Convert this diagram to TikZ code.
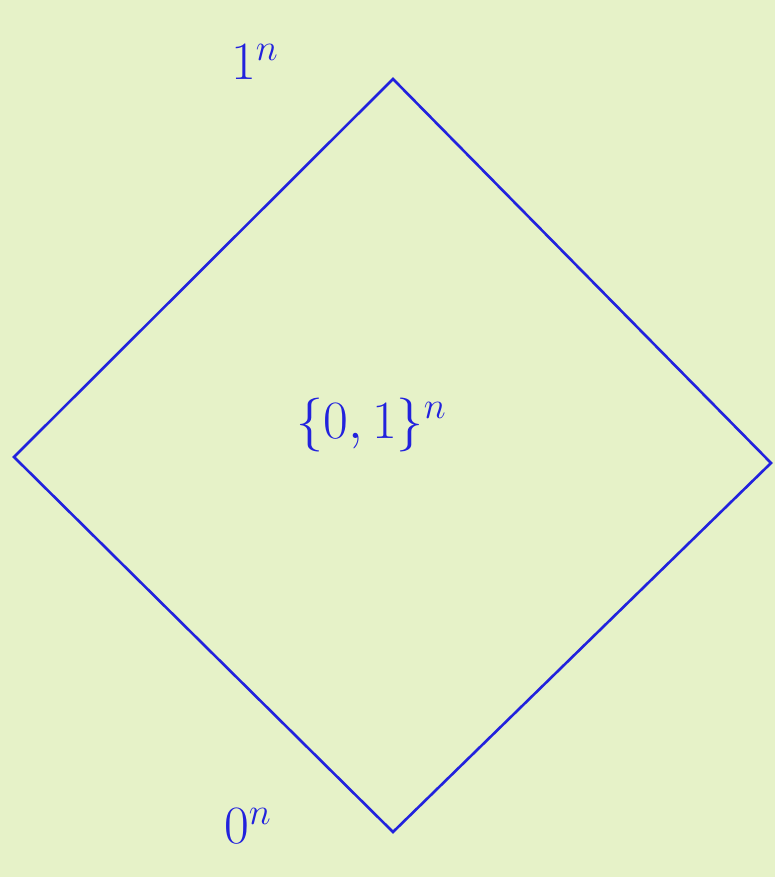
\documentclass[tikz,border=0pt]{standalone}
\definecolor{bgcol}{HTML}{E6F2C8}
\definecolor{inkblue}{HTML}{2222DD}
\begin{document}
\begin{tikzpicture}[x=1pt,y=-1pt,
  edge/.style={draw=inkblue,line width=2.6pt,line join=miter},
  lab/.style={text=inkblue,font=\huge,inner sep=0pt,scale=2.6,transform shape=false}]
\fill[bgcol] (0,0) rectangle (775,877);
\useasboundingbox (0,0) rectangle (775,877);
\coordinate (t) at (393,79);
\coordinate (l) at (14,457);
\coordinate (r) at (771,463);
\coordinate (b) at (393,832);
\draw[edge] (t) -- (r) -- (b) -- (l) -- cycle;
\node[lab] (one) at (255,62) {$1^n$};
\node[lab] (set) at (372,425) {$\{0,1\}^n$};
\node[lab] (zero) at (248,826) {$0^n$};
\end{tikzpicture}
\end{document}
